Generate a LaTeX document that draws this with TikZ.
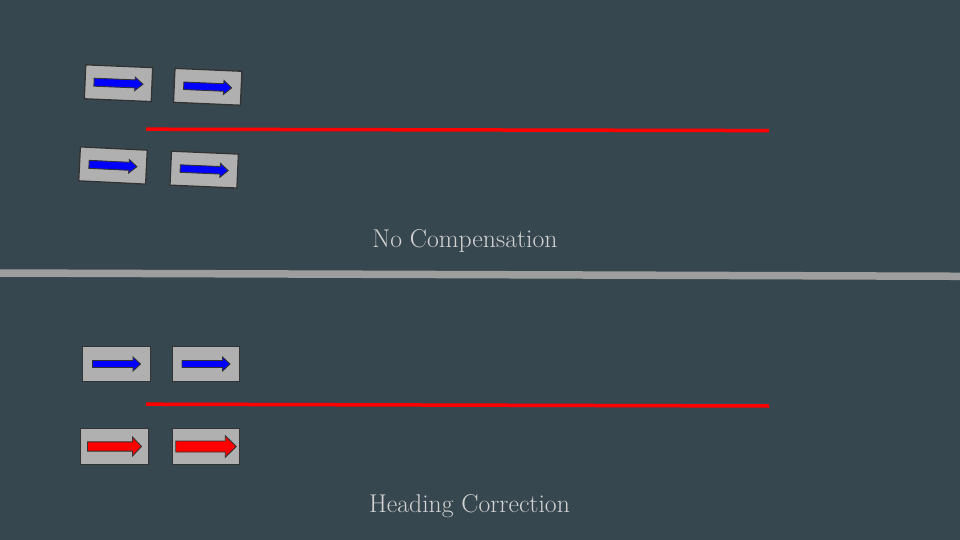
\documentclass[tikz,border=0pt]{standalone}
\usepackage{fontspec}
\definecolor{bgc}{HTML}{37474F}
\definecolor{boxc}{HTML}{B0B0B0}
\definecolor{edgec}{HTML}{333333}
\definecolor{divc}{HTML}{9E9E9E}
\definecolor{txtc}{HTML}{D2D2D2}
\tikzset{
  carbox/.style={draw=edgec, line width=1.3pt, fill=boxc, minimum width=67pt, minimum height=34pt, inner sep=0pt},
  arrblue/.style={draw=edgec, line width=0.9pt, fill=blue},
  arrred/.style={draw=edgec, line width=0.9pt, fill=red},
  lanemark/.style={draw=red, line width=3.5pt},
  divider/.style={draw=divc, line width=7.5pt},
  caption/.style={text=txtc, font=\fontsize{25.7}{30}\selectfont, anchor=base, inner sep=0pt}
}
% #1 style, #2 length, #3 shaft thickness, #4 head height, #5 head length
\newcommand\carrowshape[5]{%
  \path[#1] ({-#2/2},{-#3/2}) -- ({#2/2-#5},{-#3/2}) -- ({#2/2-#5},{-#4/2}) -- ({#2/2},0)
    -- ({#2/2-#5},{#4/2}) -- ({#2/2-#5},{#3/2}) -- ({-#2/2},{#3/2}) -- cycle;}
\begin{document}
\begin{tikzpicture}[x=1pt,y=-1pt]
\useasboundingbox (0,0) rectangle (960,540);
\fill[bgc] (0,0) rectangle (960,540);

% divider
\coordinate (dl) at (-5,273);
\coordinate (dr) at (965,276.3);
\draw[divider] (dl) -- (dr);

% top scene
\coordinate (r1a) at (146,129.2);
\coordinate (r1b) at (769,130.6);
\draw[lanemark] (r1a) -- (r1b);
\node[carbox, rotate=-2.4] (b1) at (118.5,83.2) {};
\node[carbox, rotate=-2.5] (b2) at (207.7,86.8) {};
\node[carbox, rotate=-2.8] (b3) at (113,165.5) {};
\node[carbox, rotate=-2.5] (b4) at (204.2,169.6) {};
\begin{scope}[shift={(b1.center)}, rotate=-2.4]\carrowshape{arrblue}{49}{8}{13.5}{8}\end{scope}
\begin{scope}[shift={(b2.center)}, rotate=-2.5]\carrowshape{arrblue}{48}{7.5}{14}{8}\end{scope}
\begin{scope}[shift={(b3.center)}, rotate=-2.8]\carrowshape{arrblue}{48}{8}{13.5}{8}\end{scope}
\begin{scope}[shift={(b4.center)}, rotate=-2.5]\carrowshape{arrblue}{48}{7.5}{14}{8}\end{scope}
\node[caption] (t1) at (465,247.3) {No Compensation};

% bottom scene
\coordinate (r2a) at (146,404.2);
\coordinate (r2b) at (769,406);
\draw[lanemark] (r2a) -- (r2b);
\node[carbox, minimum width=68pt, minimum height=35pt] (b5) at (116.5,364) {};
\node[carbox, minimum width=67.5pt, minimum height=35pt] (b6) at (206,364) {};
\node[carbox, minimum width=68pt, minimum height=35.5pt] (b7) at (114.5,446.5) {};
\node[carbox, minimum width=67.5pt, minimum height=35.5pt] (b8) at (206,446.5) {};
\begin{scope}[shift={(b5.center)}]\carrowshape{arrblue}{48}{7}{14}{7.5}\end{scope}
\begin{scope}[shift={(b6.center)}]\carrowshape{arrblue}{48}{7}{14}{7.5}\end{scope}
\begin{scope}[shift={(b7.center)}]\carrowshape{arrred}{54}{9.3}{19}{9}\end{scope}
\begin{scope}[shift={(b8.center)}]\carrowshape{arrred}{60.5}{11}{21.6}{11}\end{scope}
\node[caption] (t2) at (469.5,512.3) {Heading Correction};
\end{tikzpicture}
\end{document}
